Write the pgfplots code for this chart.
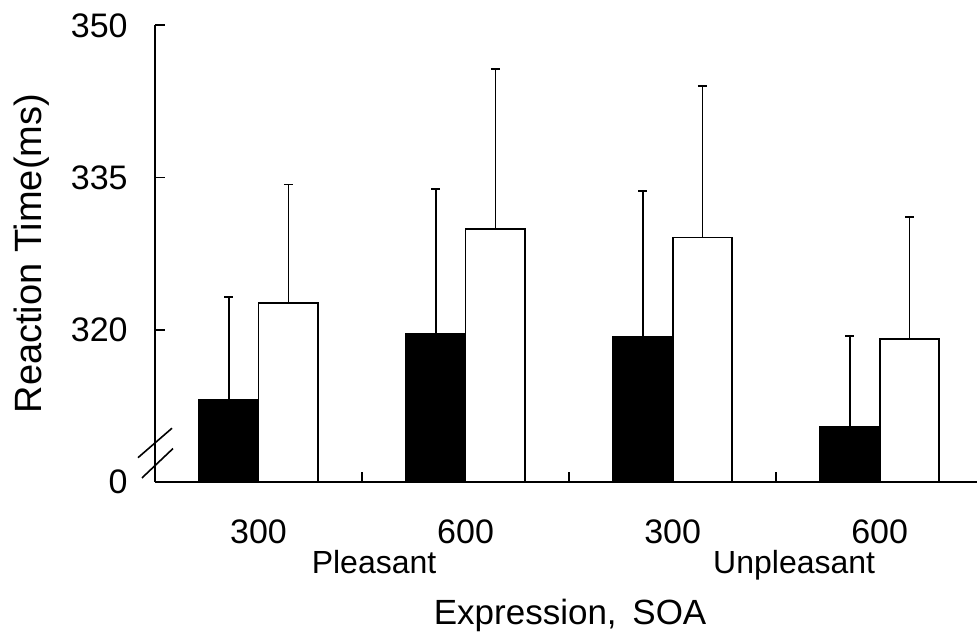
\documentclass[border=0pt]{standalone}
\usepackage{fontspec}
\setmainfont{Liberation Sans}
\usepackage{pgfplots}
\pgfplotsset{compat=1.18}

\begin{document}
\begin{tikzpicture}
\begin{axis}[
    at={(0,0)}, anchor=south west,
    scale only axis,
    width=411pt, height=228.35pt,
    xmin=-0.5, xmax=3.47,
    ymin=305, ymax=350,
    axis x line*=bottom,
    axis y line*=left,
    axis on top,
    axis line style={-, line width=0.9pt, black},
    tick align=inside,
    major tick length=5pt,
    tick style={line width=0.9pt, black},
    /pgf/number format/assume math mode=true,
    xtick={0.5,1.5,2.5},
    xticklabels={,,},
    extra x ticks={0,1,2,3},
    extra x tick labels={300,600,300,600},
    extra x tick style={major tick length=0pt},
    xticklabel style={anchor=base, inner sep=0pt, yshift=-30.5pt,
        font=\fontsize{17}{20.4}\selectfont},
    ytick={305,320,335,350},
    yticklabels={0,320,335,350},
    yticklabel style={anchor=east, inner sep=0pt, xshift=-13.5pt,
        font=\fontsize{17}{20.4}\selectfont},
    ylabel={Reaction Time(ms)},
    ylabel style={at={(axis description cs:-0.1375,0.5)}, anchor=base,
        inner sep=0pt, font=\fontsize{19}{22}\selectfont},
    xlabel={Expression,\hspace{0.45em}SOA},
    xlabel style={at={(axis description cs:0.505,-0.311)}, anchor=base,
        inner sep=0pt, font=\fontsize{17.5}{21}\selectfont},
    bar width=0.288,
    error bars/error bar style={line width=0.8pt, black},
    error bars/error mark options={rotate=90, mark size=2.25pt, line width=0.8pt, black},
  ]
  % black bars (left of each pair)
  \addplot[ybar, bar shift=0, fill=black, draw=black, line width=0.9pt,
      error bars/.cd, y dir=plus, y explicit]
    coordinates {
      (-0.144,313.1) +- (0,10.1)
      (0.856,319.6) +- (0,14.3)
      (1.856,319.3) +- (0,14.4)
      (2.856,310.4) +- (0,9.0)
    };
  % white bars (right of each pair)
  \addplot[ybar, bar shift=0, fill=white, draw=black, line width=0.9pt,
      error bars/.cd, y dir=plus, y explicit]
    coordinates {
      (0.144,322.6) +- (0,11.7)
      (1.144,329.9) +- (0,15.8)
      (2.144,329.1) +- (0,14.9)
      (3.144,319.1) +- (0,12.0)
    };
  % axis break and group names
  \coordinate (s1a) at (axis cs:-0.582,307.4);
  \coordinate (s1b) at (axis cs:-0.418,310.3);
  \coordinate (s2a) at (axis cs:-0.563,305.4);
  \coordinate (s2b) at (axis cs:-0.413,308.3);
  \coordinate (pl) at (axis cs:0.558,305);
  \coordinate (un) at (axis cs:2.587,305);
\end{axis}
\draw[line width=0.8pt] (s1a) -- (s1b);
\draw[line width=0.8pt] (s2a) -- (s2b);
\node[anchor=base, inner sep=0pt, font=\fontsize{16}{19.2}\selectfont]
  at ([yshift=-45.5pt]pl) {Pleasant};
\node[anchor=base, inner sep=0pt, font=\fontsize{16}{19.2}\selectfont]
  at ([yshift=-45.5pt]un) {Unpleasant};
\pgfresetboundingbox
\path[use as bounding box] (-77.5pt,-75pt) rectangle (411pt,241pt);
\end{tikzpicture}
\end{document}
